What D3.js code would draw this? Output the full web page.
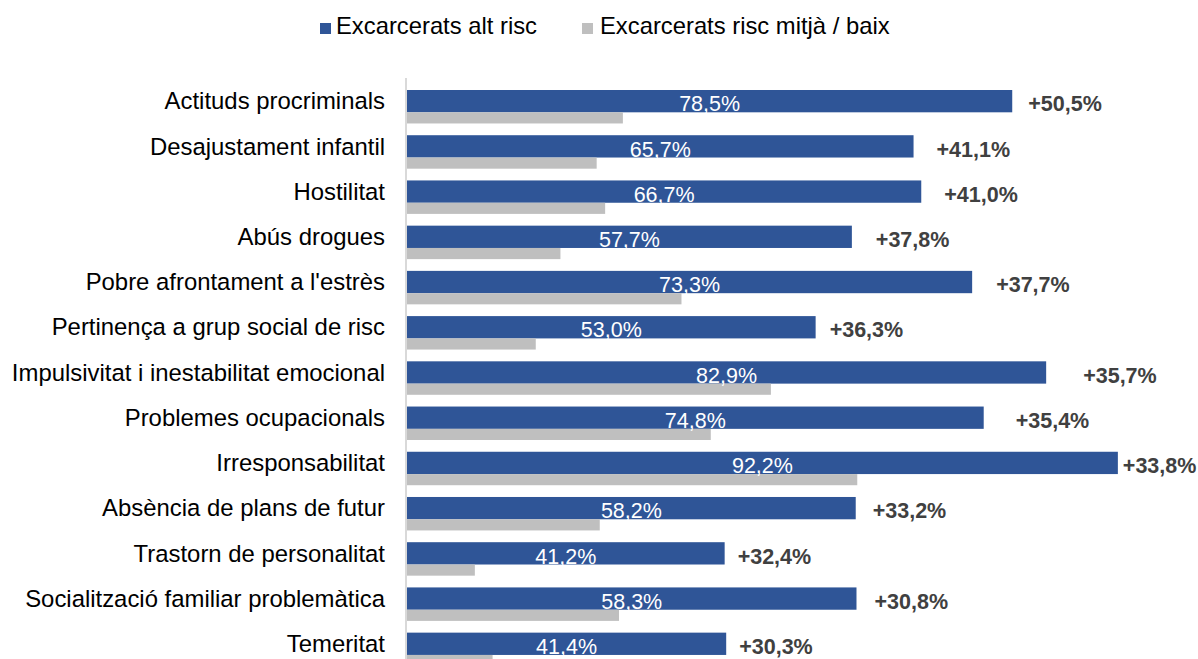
<!DOCTYPE html>
<html lang="ca">
<head>
<meta charset="utf-8">
<title>Excarcerats</title>
<script src="https://d3js.org/d3.v7.min.js"></script>
<style>
  body { margin: 0; background: #fff; }
  text { font-family: "Liberation Sans", Arial, sans-serif; }
</style>
</head>
<body>
<svg id="chart"></svg>
<script>
// data
var categories = [
  "Actituds procriminals",
  "Desajustament infantil",
  "Hostilitat",
  "Abús drogues",
  "Pobre afrontament a l'estrès",
  "Pertinença a grup social de risc",
  "Impulsivitat i inestabilitat emocional",
  "Problemes ocupacionals",
  "Irresponsabilitat",
  "Absència de plans de futur ",
  "Trastorn de personalitat",
  "Socialització familiar problemàtica",
  "Temeritat"
];
var altRisc = [78.5, 65.7, 66.7, 57.7, 73.3, 53.0, 82.9, 74.8, 92.2, 58.2, 41.2, 58.3, 41.4];
var baixRisc = [28.0, 24.6, 25.7, 19.9, 35.6, 16.7, 47.2, 39.4, 58.4, 25.0, 8.8, 27.5, 11.1];
var diffs = [50.5, 41.1, 41.0, 37.8, 37.7, 36.3, 35.7, 35.4, 33.8, 33.2, 32.4, 30.8, 30.3];
var seriesNames = ["Excarcerats alt risc", "Excarcerats risc mitjà / baix"];

// label gaps after blue bar end (hand placed in original)
var diffGap = [16, 23, 23, 24, 24, 14, 37, 32, 5, 17, 13, 18, 13];

var W = 1198, H = 659;
var blue = "#2F5597", grey = "#BFBFBF";
var fmt = function(v){ return v.toFixed(1).replace(".", ",") + "%"; };

var svg = d3.select("#chart").attr("width", W).attr("height", H);

var x = d3.scaleLinear().domain([0, 100]).range([407, 1178]);
var step = 45.22;
var y = d3.scaleBand()
  .domain(categories)
  .range([90, 90 + step * (13 - 0.26)])
  .paddingInner(0.26)
  .paddingOuter(0);
var bh = y.bandwidth() * 2 / 3;
var gh = y.bandwidth() / 3;

// axis line
svg.append("line")
  .attr("x1", 406).attr("x2", 406)
  .attr("y1", 78).attr("y2", H)
  .attr("stroke", "#D9D9D9").attr("stroke-width", 2);

var rows = categories.map(function(c, i){
  return {cat: c, a: altRisc[i], b: baixRisc[i], d: diffs[i], gap: diffGap[i]};
});

svg.selectAll("rect.alt")
  .data(rows).enter().append("rect")
  .attr("class", "alt")
  .attr("x", x(0))
  .attr("y", function(d){ return y(d.cat); })
  .attr("width", function(d){ return x(d.a) - x(0); })
  .attr("height", bh)
  .attr("fill", blue);

svg.selectAll("rect.baix")
  .data(rows).enter().append("rect")
  .attr("class", "baix")
  .attr("x", x(0))
  .attr("y", function(d){ return y(d.cat) + bh; })
  .attr("width", function(d){ return x(d.b) - x(0); })
  .attr("height", gh)
  .attr("fill", grey);

// values inside blue bars
svg.selectAll("text.val")
  .data(rows).enter().append("text")
  .attr("class", "val")
  .attr("x", function(d){ return (x(0) + x(d.a)) / 2; })
  .attr("y", function(d){ return y(d.cat) + bh - 1; })
  .attr("text-anchor", "middle")
  .attr("font-size", 21.5)
  .attr("fill", "#fff")
  .text(function(d){ return fmt(d.a); });

// differences
svg.selectAll("text.diff")
  .data(rows).enter().append("text")
  .attr("class", "diff")
  .attr("x", function(d){ return x(d.a) + d.gap; })
  .attr("y", function(d){ return y(d.cat) + bh - 1; })
  .attr("font-size", 21.5)
  .attr("font-weight", "bold")
  .attr("fill", "#404040")
  .text(function(d){ return "+" + fmt(d.d); });

// category labels
svg.selectAll("text.cat")
  .data(rows).enter().append("text")
  .attr("class", "cat")
  .attr("x", 385)
  .attr("y", function(d){ return y(d.cat) + bh - 3; })
  .attr("text-anchor", "end")
  .attr("font-size", 23.9)
  .attr("fill", "#000")
  .text(function(d){ return d.cat; });

// legend
var legX = [320, 582];
var leg = svg.selectAll("g.leg")
  .data(seriesNames).enter().append("g")
  .attr("class", "leg")
  .attr("transform", function(d, i){ return "translate(" + legX[i] + ",0)"; });
leg.append("rect")
  .attr("x", 0).attr("y", 23).attr("width", 11).attr("height", 11)
  .attr("fill", function(d, i){ return i === 0 ? blue : grey; });
leg.append("text")
  .attr("x", function(d, i){ return i === 0 ? 16 : 18; })
  .attr("y", 34)
  .attr("font-size", 23.8)
  .attr("fill", "#000")
  .text(function(d){ return d; });
</script>
</body>
</html>
